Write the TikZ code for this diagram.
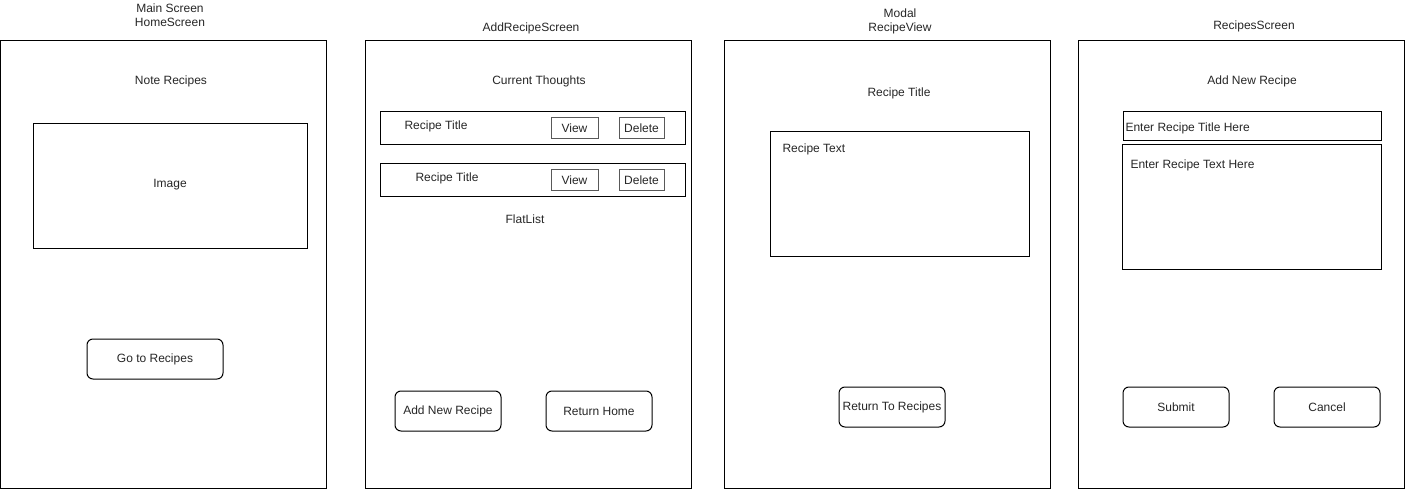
\documentclass[tikz,border=0pt]{standalone}
\usepackage{fontspec}
\setmainfont{Liberation Sans}
\begin{document}
\begin{tikzpicture}[x=1pt,y=-1pt,line width=1pt,
  every node/.style={font=\fontsize{12}{14}\selectfont,inner sep=0pt,text=black!85},
  btn/.style={rounded corners=6pt},
  smallbtn/.style={draw=black!65}]
  \def \scrtop {41}
  \def \scrbot {488}
  \def \scrw {326}

  \useasboundingbox (0,0) rectangle (1405,489);

  % screen frames
  \foreach \sx in {0,365,724,1078}{
    \draw (\sx,\scrtop) rectangle ++(\scrw,\scrbot-\scrtop);
  }

  % main screen
  \node[align=center] (homeTitle) at (170,15) {Main Screen\\HomeScreen};
  \node (noteRecipes) at (171,81) {Note Recipes};
  \draw (33,124) rectangle (307,248);
  \node (image) at (170,185) {Image};
  \draw[btn] (87,339) rectangle (223,379);
  \node (goRecipes) at (155,359) {Go to Recipes};

  % add recipe screen
  \node (addTitle) at (531,28) {AddRecipeScreen};
  \node (thoughts) at (539,81) {Current Thoughts};
  \foreach \ry/\tx in {112/436,164/447}{
    \draw (380,\ry) rectangle ++(305,33);
    \node at (\tx,\ry+14) {Recipe Title};
    \draw[smallbtn] (551,\ry+6) rectangle ++(47,21);
    \node at (574.5,\ry+16.5) {View};
    \draw[smallbtn] (619,\ry+6) rectangle ++(45,21);
    \node at (641.5,\ry+16.5) {Delete};
  }
  \node (flatList) at (525,219) {FlatList};
  \draw[btn] (395,391) rectangle (501,431);
  \node (addNew) at (448,411) {Add New Recipe};
  \draw[btn] (546,391) rectangle (652,431);
  \node (returnHome) at (599,411) {Return Home};

  % modal
  \node[align=center] (modalTitle) at (900,21) {Modal\\RecipeView};
  \node (recipeTitle) at (899,93) {Recipe Title};
  \draw (770,132) rectangle (1029,256);
  \node[anchor=west] (recipeText) at (782,149) {Recipe Text};
  \draw[btn] (839,387) rectangle (945,427);
  \node (returnRecipes) at (892,407) {Return To Recipes};

  % recipes screen
  \node (recipesTitle) at (1254,26) {RecipesScreen};
  \node (newRecipe) at (1252,81) {Add New Recipe};
  \draw (1123,112) rectangle (1381,141);
  \node[anchor=west] (enterTitle) at (1125,128) {Enter Recipe Title Here};
  \draw (1122,145) rectangle (1381,269);
  \node[anchor=west] (enterText) at (1130,165) {Enter Recipe Text Here};
  \draw[btn] (1123,387) rectangle (1229,427);
  \node (submit) at (1176,407) {Submit};
  \draw[btn] (1274,387) rectangle (1380,427);
  \node (cancel) at (1327,407) {Cancel};
\end{tikzpicture}
\end{document}
